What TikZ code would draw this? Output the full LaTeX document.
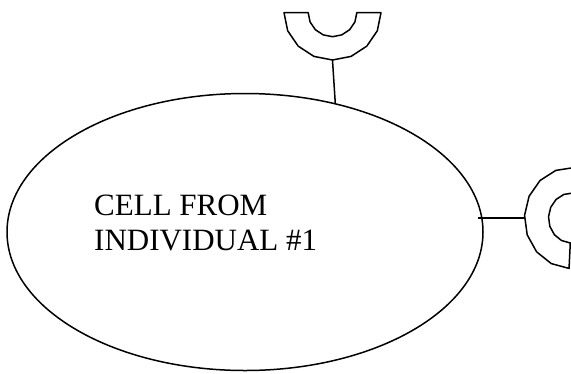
\documentclass[tikz,border=0pt]{standalone}
\usepackage{fontspec}
\setmainfont{Liberation Serif}
\usetikzlibrary{shapes.geometric}

\tikzset{
    outline/.style={line width=1.5pt, line join=round},
    receptor/.style={outline},
    cellname/.style={anchor=base west, inner sep=0pt, font=\fontsize{31}{35}\selectfont},
}

\begin{document}
\begin{tikzpicture}[x=1pt,y=-1pt]
    \useasboundingbox (0,0) rectangle (571,373);

    % Cell body with its name
    \node[outline, draw, ellipse, inner sep=0pt, minimum width=476pt, minimum height=277pt] (cell) at (245,232) {};
    \node[cellname] (name1) at (94,215.6) {CELL FROM};
    \node[cellname] (name2) at (94,250) {INDIVIDUAL \#1};

    % Receptor on top (cup opening upward)
    \begin{scope}[shift={(332.5,12.7)}]
        \draw[receptor] plot[domain=0:180, samples=9] ({48.5*cos(\x)},{47.3*sin(\x)})
            -- plot[domain=180:0, samples=9] ({24.3*cos(\x)},{24*sin(\x)}) -- cycle;
        \coordinate (topstem) at (0,47.3);
    \end{scope}
    \draw[outline] (topstem) -- (cell.55.5);

    % Receptor on the right side (cup opening to the right)
    \begin{scope}[shift={(571.5,218)}]
        \draw[receptor] plot[domain=93:273, samples=9] ({47*cos(\x)},{50.5*sin(\x)})
            -- plot[domain=273:93, samples=9] ({23*cos(\x)},{25*sin(\x)}) -- cycle;
        \coordinate (sidestem) at (-46.6,0);
    \end{scope}
    \draw[outline] (sidestem) -- ([xshift=-6pt]sidestem -| cell.east);
\end{tikzpicture}
\end{document}
